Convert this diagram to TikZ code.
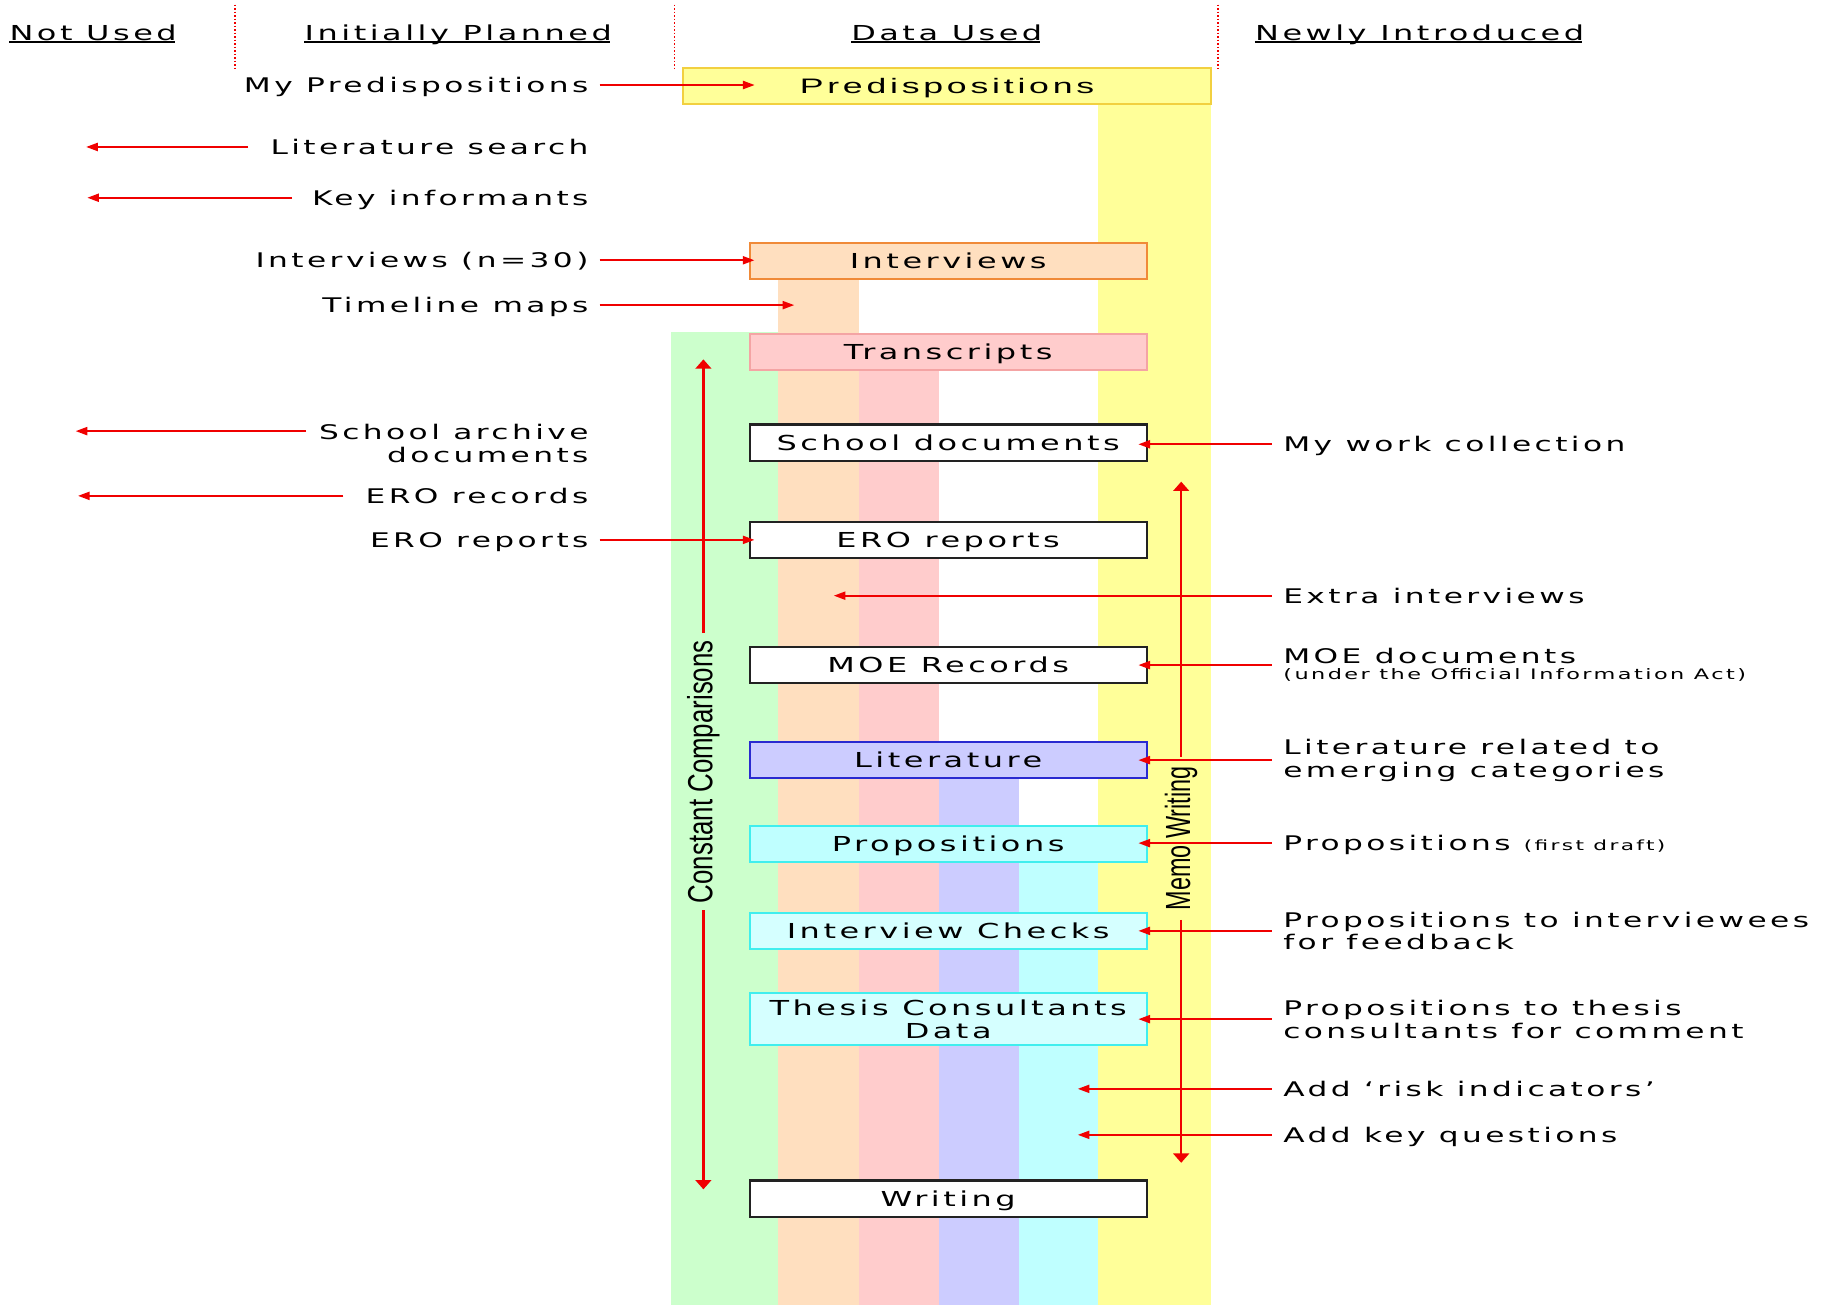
\documentclass[tikz,border=0pt]{standalone}
\usepackage{graphicx}
\usepackage{fontspec}
\usetikzlibrary{arrows.meta,calc}
\newfontfamily\vfont{DejaVu Sans}[FakeStretch=1.55,LetterSpace=17]
\newfontfamily\afont{Liberation Sans}[FakeStretch=1.7,LetterSpace=18]
\newfontfamily\nfont{Liberation Sans}
\definecolor{cgreen}{HTML}{CCFFCC}
\definecolor{cpeach}{HTML}{FFDFBF}
\definecolor{cpink}{HTML}{FFCCCC}
\definecolor{clav}{HTML}{CCCCFF}
\definecolor{ccyan}{HTML}{BFFFFF}
\definecolor{clcyan}{HTML}{D5FFFF}
\definecolor{cyellow}{HTML}{FFFF99}
\definecolor{bgold}{HTML}{F2D040}
\definecolor{borange}{HTML}{F08A38}
\definecolor{bpink}{HTML}{F4A4A4}
\definecolor{bblue}{HTML}{2A2AD0}
\definecolor{bcyan}{HTML}{40EEEE}
\definecolor{bblack}{HTML}{222222}
\definecolor{ared}{HTML}{F00000}
\begin{document}
\begin{tikzpicture}[x=1pt,y=-1pt,
  lab/.style={font=\vfont\fontsize{17.3}{19.5}\selectfont, inner sep=0pt, text height=12.6pt, text depth=0pt},
  mlab/.style={font=\vfont\fontsize{17.3}{19.5}\selectfont, inner sep=0pt},
  slab/.style={font=\vfont\fontsize{12.4}{14}\selectfont, inner sep=0pt, text height=9pt, text depth=0pt},
  hdr/.style={font=\vfont\fontsize{17.7}{20}\selectfont, inner sep=0pt, text height=12.9pt, text depth=0pt},
  boxbase/.style={draw=bblack, fill=white, line width=1.8pt, minimum width=341pt, minimum height=31pt, inner sep=0pt, font=\vfont\fontsize{17.7}{19.2}\selectfont},
  box/.style={boxbase, text height=12.9pt, text depth=0pt},
  harr/.style={draw=ared, line width=1.5pt, -{Triangle[length=10pt,width=7pt]}},
  varr/.style={draw=ared, line width=2pt, -{Triangle[length=8pt,width=13.5pt]}},
  rot/.style={rotate=90, inner ysep=0pt, font=\nfont\fontsize{30}{30}\selectfont},
  dotline/.style={draw=ared, line width=1.3pt, dash pattern=on 1.5pt off 1.5pt},
  uline/.style={draw=black, line width=1.3pt}
]
\useasboundingbox[fill=white] (0,0) rectangle (1568,1121);

% columns
\fill[cyellow] (943,80) rectangle (1040,1121);
\fill[cgreen] (576,285.4) rectangle (668,1121);
\fill[cpeach] (668,235) rectangle (738,1121);
\fill[cpink] (738,315) rectangle (806,1121);
\fill[clav] (806,665) rectangle (875,1121);
\fill[ccyan] (875,738) rectangle (943,1121);

% headers
\node[hdr, anchor=base] (hNU) at (80,34.4) {Not Used};
\node[hdr, anchor=base] (hIP) at (393.5,34.4) {Initially Planned};
\node[hdr, anchor=base] (hDU) at (813,34.4) {Data Used};
\node[hdr, anchor=base] (hNI) at (1219,34.4) {Newly Introduced};
\foreach \h in {hNU,hIP,hDU,hNI}{
  \draw[uline] ($(\h.base west)+(0,1.8)$) -- ($(\h.base east)+(-2,1.8)$);
}
\draw[dotline] (202,4) -- (202,59);
\draw[dotline] (579,4) -- (579,59);
\draw[dotline] (1046,4) -- (1046,59);

% boxes
\node[boxbase, draw=bgold, fill=cyellow, minimum width=454pt, font=\afont\fontsize{18}{20}\selectfont, text height=12.9pt, text depth=0pt] (bPre) at (813.2,73.7) {Predispositions};
\node[box, draw=borange, fill=cpeach] (bInt) at (814.2,224) {Interviews};
\node[box, draw=bpink, fill=cpink] (bTra) at (814.2,302) {Transcripts};
\node[box] (bSch) at (814.2,380) {School documents};
\node[box] (bERO) at (814.2,464) {ERO reports};
\node[box] (bMOE) at (814.2,571) {MOE Records};
\node[box, draw=bblue, fill=clav] (bLit) at (814.2,652.5) {Literature};
\node[box, draw=bcyan, fill=ccyan] (bPro) at (814.2,725) {Propositions};
\node[box, draw=bcyan, fill=clcyan] (bChk) at (814.2,799.4) {Interview Checks};
\node[boxbase, draw=bcyan, fill=clcyan, minimum height=45pt, align=center] (bThe) at (814.2,875.2) {Thesis Consultants\\Data};
\node[box] (bWri) at (814.2,1029.2) {Writing};

% left labels
\node[lab, anchor=east] (lMyP) at (505.5,73) {My Predispositions};
\node[lab, anchor=east] (lLit) at (505.5,126.2) {Literature search};
\node[lab, anchor=east] (lKey) at (505.5,169.8) {Key informants};
\node[lab, anchor=east] (lInt) at (505.5,223.5) {Interviews (n=30)};
\node[lab, anchor=east] (lTim) at (505.5,262) {Timeline maps};
\node[mlab, align=right, anchor=north east] (lSch) at (505.5,364.2) {School archive\\documents};
\node[lab, anchor=east] (lERr) at (505.5,425.8) {ERO records};
\node[lab, anchor=east] (lERp) at (505.5,463.6) {ERO reports};

\coordinate (tLit) at (74,126.2);
\coordinate (tKey) at (75,169.8);
\coordinate (tSch) at (65,370.2);
\coordinate (tERr) at (67,425.8);
\coordinate (tMyP) at (648,73);
\coordinate (tTim) at (682,262);

\draw[harr] ($(lLit.west)+(-19,0)$) -- (tLit);
\draw[harr] ($(lKey.west)+(-17,0)$) -- (tKey);
\draw[harr] ($(lSch.north west)+(-11,6)$) -- (tSch);
\draw[harr] ($(lERr.west)+(-19,0)$) -- (tERr);
\draw[harr] ($(lMyP.east)+(9.5,0)$) -- (tMyP);
\draw[harr] ($(lInt.east)+(9.5,0)$) -- ($(lInt.east -| bInt.west)+(5,0)$);
\draw[harr] ($(lTim.east)+(9.5,0)$) -- (tTim);
\draw[harr] ($(lERp.east)+(9.5,0)$) -- ($(lERp.east -| bERO.west)+(5,0)$);

% right labels
\node[lab, anchor=west] (rWork) at (1101.8,381.5) {My work collection};
\node[lab, anchor=west] (rExtra) at (1101.8,511.5) {Extra interviews};
\node[lab, anchor=base west] (rMoe) at (1101.8,569.6) {MOE documents};
\node[slab, anchor=base west] (rMoeS) at (1101.8,583.4) {(under the Official Information Act)};
\node[mlab, align=left, anchor=north west] (rLitR) at (1101.8,634.4) {Literature related to\\emerging categories};
\node[lab, anchor=west] (rProp) at (1101.8,724) {Propositions {\fontsize{12}{14}\selectfont(first draft)}};
\node[mlab, align=left, anchor=north west] (rPInt) at (1101.8,782.7) {Propositions to interviewees\\for feedback};
\node[mlab, align=left, anchor=north west] (rPThe) at (1101.8,858.5) {Propositions to thesis\\consultants for comment};
\node[lab, anchor=west] (rRisk) at (1101.8,935) {Add ‘risk indicators’};
\node[lab, anchor=west] (rKeyQ) at (1101.8,974.5) {Add key questions};

\coordinate (tExtra) at (716,511.5);
\coordinate (tRisk) at (925.5,935);
\coordinate (tKeyQ) at (925.5,974.5);
\coordinate (mMoe) at ($(rMoe.west)!0.5!(rMoeS.west)$);

\draw[harr] ($(rWork.west)+(-9.8,0)$) -- ($(rWork.west -| bSch.east)+(-8,0)$);
\draw[harr] ($(rExtra.west)+(-9.8,0)$) -- (tExtra);
\draw[harr] ($(mMoe -| rMoe.west)+(-9.8,0)$) -- ($(mMoe -| bMOE.east)+(-8,0)$);
\draw[harr] ($(rLitR.west)+(-9.8,0)$) -- ($(rLitR.west -| bLit.east)+(-8,0)$);
\draw[harr] ($(rProp.west)+(-9.8,0)$) -- ($(rProp.west -| bPro.east)+(-8,0)$);
\draw[harr] ($(rPInt.west)+(-9.8,0)$) -- ($(rPInt.west -| bChk.east)+(-8,0)$);
\draw[harr] ($(rPThe.west)+(-9.8,0)$) -- ($(rPThe.west -| bThe.east)+(-8,0)$);
\draw[harr] ($(rRisk.west)+(-9.8,0)$) -- (tRisk);
\draw[harr] ($(rKeyQ.west)+(-9.8,0)$) -- (tKeyQ);

% vertical process arrows
\node[rot, inner xsep=6pt] (cc) at (604,662.7) {\scalebox{0.74}[1]{Constant Comparisons}};
\coordinate (ccTop) at (604,308.6);
\coordinate (ccBot) at (604,1021.3);
\draw[varr] (cc.east) -- (ccTop);
\draw[varr] (cc.west) -- (ccBot);

\node[rot, inner xsep=8pt] (mw) at (1014.3,719.8) {\scalebox{0.67}[1]{Memo Writing}};
\coordinate (mwTop) at (1014.3,413.6);
\coordinate (mwBot) at (1014.3,998.5);
\draw[varr] (mw.east) -- (mwTop);
\draw[varr] (mw.west) -- (mwBot);
\end{tikzpicture}
\end{document}
